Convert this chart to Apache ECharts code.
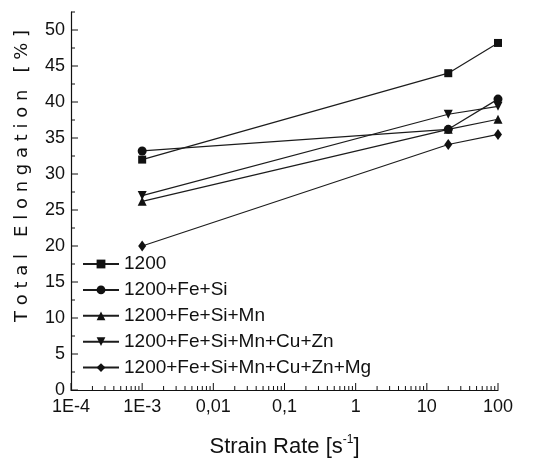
<!DOCTYPE html>
<html>
<head>
<meta charset="utf-8">
<script src="https://cdn.jsdelivr.net/npm/echarts@6/dist/echarts.min.js"></script>
<style>
  html, body { margin: 0; padding: 0; background: #ffffff; }
  #chart { width: 546px; height: 460px; }
</style>
</head>
<body>
<div id="chart"></div>
<script>
// Strain rates tested [1/s]
const strainRates = [0.001, 20, 100];

// Total elongation [%] for each alloy
const alloy1200 = [32.0, 44.0, 48.2];
const alloyFeSi = [33.2, 36.2, 40.4];
const alloyFeSiMn = [26.2, 36.2, 37.6];
const alloyFeSiMnCuZn = [27.0, 38.3, 39.4];
const alloyFeSiMnCuZnMg = [20.0, 34.1, 35.5];

const seriesNames = [
  '1200',
  '1200+Fe+Si',
  '1200+Fe+Si+Mn',
  '1200+Fe+Si+Mn+Cu+Zn',
  '1200+Fe+Si+Mn+Cu+Zn+Mg'
];

// Decade labels of the logarithmic strain-rate axis, from 1E-4 upward
const xTickLabels = ['1E-4', '1E-3', '0,01', '0,1', '1', '10', '100'];

const X_MIN = 1e-4, X_MAX = 100;
const Y_MIN = 0, Y_MAX = 52.5, Y_STEP = 5;

const INK = '#111111';
const FONT = 'Liberation Sans, Arial, sans-serif';

// Tick marks drawn inside the axes: log-decade ticks with 2..9 minors on x,
// majors every 5 % and minors every 2.5 % on y.
const tickMarks = [];
for (let e = -4; e < 2; e++) {
  for (let m = 1; m <= 9; m++) {
    tickMarks.push([m * Math.pow(10, e), Y_MIN, m === 1 ? 1 : 0, 0]);
  }
}
tickMarks.push([X_MAX, Y_MIN, 1, 0]);
for (let v = Y_MIN; v <= Y_MAX + 1e-9; v += Y_STEP / 2) {
  tickMarks.push([X_MIN, v, (v % Y_STEP === 0) ? 1 : 0, 1]);
}

function makeSeries(name, values, symbol, size, rotate) {
  return {
    name: name,
    type: 'line',
    data: strainRates.map((x, i) => [x, values[i]]),
    symbol: symbol,
    symbolSize: size,
    symbolRotate: rotate || 0,
    showSymbol: true,
    clip: false,
    lineStyle: { color: '#1c1c1c', width: 1.2 },
    itemStyle: { color: '#111111', borderWidth: 0 },
    z: 3
  };
}

const chart = echarts.init(document.getElementById('chart'), null, { renderer: 'canvas' });

chart.setOption({
  animation: false,
  backgroundColor: '#ffffff',
  textStyle: { fontFamily: FONT, color: INK },
  grid: {
    left: 71, right: 48, top: 12, bottom: 70,
    containLabel: false,
    outerBoundsMode: 'none'
  },
  legend: {
    data: seriesNames.map(n => ({ name: n })),
    orient: 'vertical',
    left: 77,
    top: 249,
    itemWidth: 36,
    itemHeight: 11,
    itemGap: 5.9,
    symbolRotate: 'inherit',
    textStyle: { fontFamily: FONT, fontSize: 19, color: INK, lineHeight: 20 },
    selectedMode: false
  },
  xAxis: {
    type: 'log',
    logBase: 10,
    min: X_MIN,
    max: X_MAX,
    name: '{n|Strain Rate [s}{sup|-1}{n|]}',
    nameLocation: 'middle',
    nameGap: 44,
    nameTextStyle: {
      rich: {
        n: { fontFamily: FONT, fontSize: 22, color: INK, lineHeight: 26 },
        sup: { fontFamily: FONT, fontSize: 12, color: INK, verticalAlign: 'top', lineHeight: 26 }
      }
    },
    axisLine: { show: true, lineStyle: { color: INK, width: 1.2 } },
    axisTick: { show: false },
    minorTick: { show: false },
    splitLine: { show: false },
    axisLabel: {
      margin: 8,
      fontFamily: FONT,
      fontSize: 18,
      color: INK,
      formatter: function (v) {
        const idx = Math.round(Math.log10(v)) + 4;
        return xTickLabels[idx] !== undefined ? xTickLabels[idx] : '';
      }
    }
  },
  yAxis: {
    type: 'value',
    min: Y_MIN,
    max: Y_MAX,
    interval: Y_STEP,
    name: 'T o t a l   E l o n g a t i o n   [ % ]',
    nameLocation: 'middle',
    nameRotate: 90,
    nameGap: 40,
    nameTextStyle: {
      fontFamily: 'DejaVu Sans, sans-serif',
      fontSize: 18,
      color: INK,
      padding: [0, 0, 0, 50]
    },
    axisLine: { show: true, lineStyle: { color: INK, width: 1.2 } },
    axisTick: { show: false },
    minorTick: { show: false },
    splitLine: { show: false },
    axisLabel: {
      margin: 6,
      fontFamily: FONT,
      fontSize: 18,
      color: INK,
      showMaxLabel: false,
      formatter: function (v) { return (v % Y_STEP === 0) ? String(v) : ''; }
    }
  },
  series: [
    makeSeries(seriesNames[0], alloy1200, 'rect', 8),
    makeSeries(seriesNames[1], alloyFeSi, 'circle', 9),
    makeSeries(seriesNames[2], alloyFeSiMn, 'triangle', 9),
    makeSeries(seriesNames[3], alloyFeSiMnCuZn, 'triangle', 9, 180),
    makeSeries(seriesNames[4], alloyFeSiMnCuZnMg, 'diamond', [8, 11]),
    {
      name: 'axisTicks',
      type: 'custom',
      silent: true,
      clip: false,
      z: 1,
      data: tickMarks,
      encode: { x: 0, y: 1 },
      renderItem: function (params, api) {
        const p = api.coord([api.value(0), api.value(1)]);
        const len = api.value(2) ? 7 : 4;
        const onY = api.value(3) === 1;
        return {
          type: 'line',
          shape: onY
            ? { x1: p[0], y1: p[1], x2: p[0] + len, y2: p[1] }
            : { x1: p[0], y1: p[1], x2: p[0], y2: p[1] - len },
          style: { stroke: INK, lineWidth: 1 }
        };
      }
    }
  ]
});
</script>
</body>
</html>
